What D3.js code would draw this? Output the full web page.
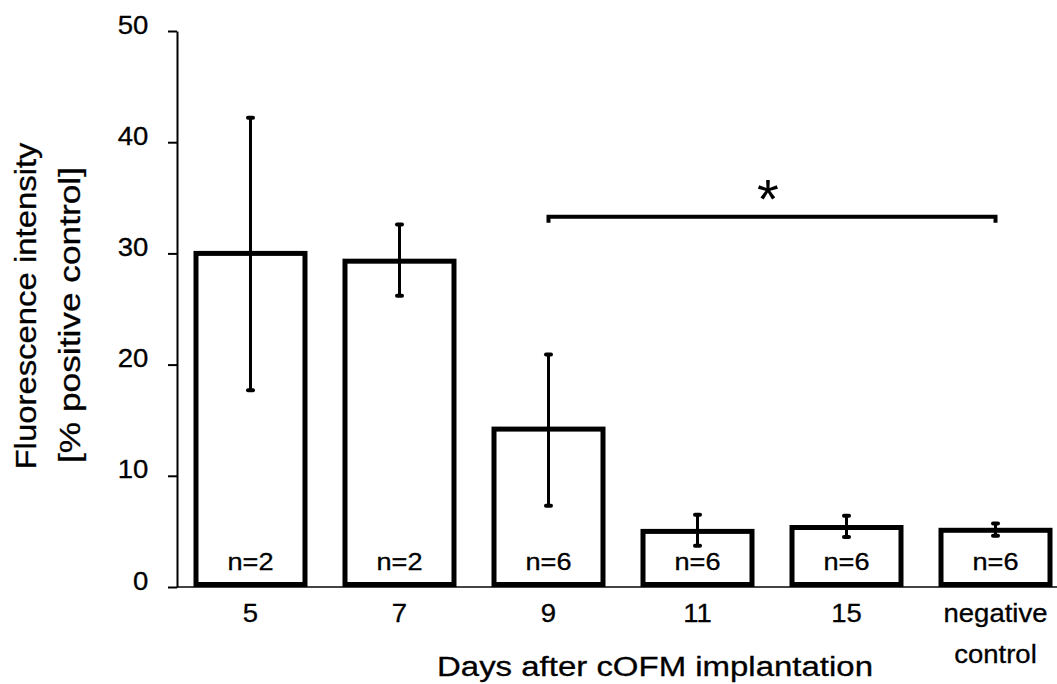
<!DOCTYPE html>
<html>
<head>
<meta charset="utf-8">
<script src="https://cdn.jsdelivr.net/npm/d3@7"></script>
<style>
body { margin: 0; background: #fff; }
text { font-family: "Liberation Sans", Arial, sans-serif; fill: #000; }
</style>
</head>
<body>
<svg id="chart"></svg>
<script>
// data
var categories = ["5", "7", "9", "11", "15", "negative control"];
var means = [30.0, 29.3, 14.2, 5.0, 5.35, 5.1];
var errLow = [17.7, 26.2, 7.3, 3.7, 4.5, 4.6];
var errHigh = [42.2, 32.6, 20.9, 6.5, 6.4, 5.7];
var nLabels = ["n=2", "n=2", "n=6", "n=6", "n=6", "n=6"];
var yTicks = [0, 10, 20, 30, 40, 50];
var sigFrom = "9", sigTo = "negative control", sigLevel = 33.3;

var w = 1057, h = 684;
var svg = d3.select('#chart').attr('width', w).attr('height', h);

var x = d3.scaleBand()
	.domain(categories)
	.range([177, 1069])
	.paddingInner(0.2685)
	.paddingOuter(0.1275);

var y = d3.scaleLinear().domain([0, 50]).range([587, 31]);

// baseline
svg.append('line')
	.attr('x1', 177).attr('x2', w)
	.attr('y1', y(0)).attr('y2', y(0))
	.attr('stroke', '#444').attr('stroke-width', 2);

// y axis
var yAxis = svg.append('g')
	.attr('transform', 'translate(177,0)')
	.call(d3.axisLeft(y).tickValues(yTicks).tickSize(9).tickSizeOuter(0).tickPadding(17));
yAxis.select('.domain').attr('stroke', '#000').attr('stroke-width', 2);
yAxis.selectAll('.tick line').attr('stroke', '#000').attr('stroke-width', 2);
yAxis.selectAll('.tick text')
	.attr('font-family', '"Liberation Sans", Arial, sans-serif')
	.attr('font-size', 25)
	.attr('y', -6)
	.attr('stroke', '#000').attr('stroke-width', 0.3)
	.attr('transform', 'scale(1.1,1)');

// bars
svg.selectAll('rect.bar')
	.data(categories)
	.join('rect')
	.attr('class', 'bar')
	.attr('x', function(d) { return x(d); })
	.attr('width', x.bandwidth())
	.attr('y', function(d, i) { return y(means[i]); })
	.attr('height', function(d, i) { return y(0) - 2.5 - y(means[i]); })
	.attr('fill', '#fff')
	.attr('stroke', '#000')
	.attr('stroke-width', 5);

// error bars
var cx = function(d) { return x(d) + x.bandwidth() / 2; };
svg.selectAll('line.err')
	.data(categories)
	.join('line')
	.attr('class', 'err')
	.attr('x1', cx).attr('x2', cx)
	.attr('y1', function(d, i) { return y(errHigh[i]); })
	.attr('y2', function(d, i) { return y(errLow[i]); })
	.attr('stroke', '#000').attr('stroke-width', 3);

var caps = [];
categories.forEach(function(d, i) {
	caps.push({c: d, v: errHigh[i]});
	caps.push({c: d, v: errLow[i]});
});
svg.selectAll('line.cap')
	.data(caps)
	.join('line')
	.attr('class', 'cap')
	.attr('x1', function(d) { return cx(d.c) - 2.5; })
	.attr('x2', function(d) { return cx(d.c) + 2.5; })
	.attr('y1', function(d) { return y(d.v); })
	.attr('y2', function(d) { return y(d.v); })
	.attr('stroke', '#000').attr('stroke-width', 4)
	.attr('stroke-linecap', 'round');

// n labels
svg.selectAll('g.nlab')
	.data(categories)
	.join('g')
	.attr('class', 'nlab')
	.attr('transform', function(d) { return 'translate(' + cx(d) + ',570)'; })
	.append('text')
	.attr('text-anchor', 'middle')
	.attr('font-size', 23)
	.attr('stroke', '#000').attr('stroke-width', 0.3)
	.attr('transform', 'scale(1.18,1)')
	.text(function(d, i) { return nLabels[i]; });

// x tick labels
var xl = svg.selectAll('g.xlab')
	.data(categories)
	.join('g')
	.attr('class', 'xlab')
	.attr('transform', function(d) { return 'translate(' + cx(d) + ',622)'; });
xl.each(function(d) {
	var parts = d.split(' ');
	var t = d3.select(this).append('text')
		.attr('text-anchor', 'middle')
		.attr('font-size', 25)
		.attr('stroke', '#000').attr('stroke-width', 0.3)
		.attr('transform', 'scale(1.1,1)');
	parts.forEach(function(p, k) {
		t.append('tspan').attr('x', 0).attr('y', k * 41).text(p);
	});
});

// axis titles
svg.append('text')
	.attr('x', 655).attr('y', 676)
	.attr('text-anchor', 'middle')
	.attr('font-size', 27)
	.attr('stroke', '#000').attr('stroke-width', 0.3)
	.attr('textLength', 436)
	.attr('lengthAdjust', 'spacingAndGlyphs')
	.text('Days after cOFM implantation');

svg.append('text')
	.attr('transform', 'translate(36,306) rotate(-90)')
	.attr('text-anchor', 'middle')
	.attr('font-size', 30)
	.attr('stroke', '#000').attr('stroke-width', 0.3)
	.attr('textLength', 327)
	.attr('lengthAdjust', 'spacingAndGlyphs')
	.text('Fluorescence intensity');

svg.append('text')
	.attr('transform', 'translate(80,315) rotate(-90)')
	.attr('text-anchor', 'middle')
	.attr('font-size', 30)
	.attr('stroke', '#000').attr('stroke-width', 0.3)
	.attr('textLength', 296)
	.attr('lengthAdjust', 'spacingAndGlyphs')
	.text('[% positive control]');

// significance bracket
var bx1 = cx(sigFrom), bx2 = cx(sigTo), by = y(sigLevel);
svg.append('path')
	.attr('d', 'M' + bx1 + ',' + (by + 6) + 'V' + by + 'H' + bx2 + 'V' + (by + 6))
	.attr('fill', 'none')
	.attr('stroke', '#000')
	.attr('stroke-width', 4);

svg.append('text')
	.attr('x', (bx1 + bx2) / 2 - 4)
	.attr('y', by + 1)
	.attr('text-anchor', 'middle')
	.attr('font-size', 56)
	.text('*');
</script>
</body>
</html>
